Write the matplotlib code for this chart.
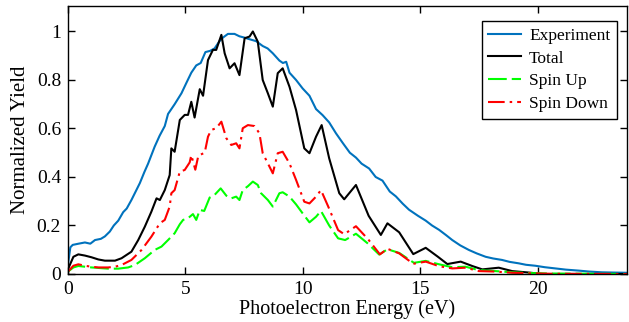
import numpy as np
import matplotlib
matplotlib.use("Agg")
import matplotlib.pyplot as plt
from matplotlib.ticker import FuncFormatter

plt.rcParams['font.family'] = ['Liberation Serif', 'DejaVu Serif']

# Experiment (measured yield)
exp_x = [0, 0.1, 0.2, 0.45, 0.72, 0.95, 1.15, 1.4, 1.57, 1.78, 1.95, 2.14, 2.35, 2.5, 2.7,
         2.88, 3.06, 3.25, 3.41, 3.55, 3.69, 3.9, 4.12, 4.26, 4.54, 4.83, 5.05, 5.25, 5.46,
         5.65, 5.85, 6.05, 6.24, 6.45, 6.6, 6.81, 7.09, 7.3, 7.5, 7.66, 8.01, 8.29, 8.5,
         8.72, 9.0, 9.15, 9.29, 9.43, 9.71, 9.99, 10.28, 10.56, 10.84, 11.12, 11.41, 11.7,
         12.0, 12.26, 12.5, 12.82, 13.1, 13.39, 13.7, 13.96, 14.25, 14.52, 14.9, 15.23,
         15.5, 15.8, 16.1, 16.36, 16.7, 17.07, 17.4, 17.78, 18.1, 18.48, 18.8, 19.19, 19.5,
         19.9, 20.3, 20.75, 21.2, 21.74, 22.2, 22.73, 23.2, 23.8]
exp_y = [0.04, 0.11, 0.12, 0.125, 0.13, 0.125, 0.14, 0.145, 0.155, 0.175, 0.2, 0.22, 0.255,
         0.27, 0.305, 0.34, 0.375, 0.42, 0.455, 0.49, 0.525, 0.57, 0.61, 0.66, 0.70, 0.745,
         0.79, 0.83, 0.86, 0.87, 0.915, 0.92, 0.93, 0.96, 0.975, 0.99, 0.99, 0.98, 0.975,
         0.97, 0.96, 0.94, 0.93, 0.91, 0.88, 0.87, 0.875, 0.83, 0.80, 0.765, 0.735, 0.68,
         0.655, 0.625, 0.58, 0.54, 0.50, 0.48, 0.455, 0.435, 0.40, 0.385, 0.34, 0.32, 0.29,
         0.265, 0.24, 0.22, 0.20, 0.182, 0.16, 0.14, 0.118, 0.099, 0.085, 0.071, 0.064,
         0.058, 0.05, 0.044, 0.038, 0.034, 0.028, 0.023, 0.018, 0.014, 0.01, 0.007, 0.006,
         0.005]

# Total (calculated)
tot_x = [0, 0.23, 0.44, 0.72, 1.0, 1.29, 1.57, 2.0, 2.28, 2.7, 2.99, 3.27, 3.55, 3.77, 3.91,
         4.12, 4.33, 4.40, 4.54, 4.76, 4.97, 5.11, 5.25, 5.39, 5.61, 5.75, 5.96, 6.17, 6.31,
         6.53, 6.67, 6.88, 7.09, 7.30, 7.52, 7.73, 7.87, 8.08, 8.29, 8.51, 8.72, 8.93, 9.14,
         9.43, 9.71, 10.06, 10.28, 10.56, 10.80, 11.12, 11.55, 11.76, 12.26, 12.80, 13.32,
         13.60, 14.10, 14.70, 15.23, 15.75, 16.15, 16.72, 17.21, 17.64, 18.34, 18.91, 19.62,
         20.2, 23.8]
tot_y = [0.02, 0.071, 0.081, 0.076, 0.069, 0.060, 0.055, 0.055, 0.065, 0.092, 0.14, 0.195,
         0.257, 0.312, 0.305, 0.346, 0.408, 0.518, 0.504, 0.635, 0.656, 0.656, 0.71, 0.645,
         0.762, 0.735, 0.882, 0.924, 0.924, 0.986, 0.91, 0.848, 0.869, 0.82, 0.972, 0.979,
         1.0, 0.958, 0.80, 0.745, 0.69, 0.828, 0.848, 0.772, 0.676, 0.518, 0.498, 0.566,
         0.614, 0.477, 0.333, 0.308, 0.367, 0.24, 0.161, 0.209, 0.172, 0.082, 0.108, 0.071,
         0.041, 0.051, 0.033, 0.019, 0.026, 0.012, 0.006, 0.0, 0.0]

# Spin up
up_x = [0, 0.23, 0.44, 0.72, 1.0, 1.29, 1.71, 2.14, 2.56, 2.85, 3.27, 3.69, 3.98, 4.26, 4.54,
        4.76, 4.90, 5.11, 5.32, 5.46, 5.61, 5.80, 6.03, 6.24, 6.50, 6.74, 6.95, 7.16, 7.30,
        7.44, 7.66, 7.87, 8.08, 8.22, 8.51, 8.72, 9.0, 9.14, 9.43, 9.71, 9.99, 10.28, 10.56,
        10.77, 11.12, 11.50, 11.80, 12.26, 12.75, 13.25, 13.60, 14.10, 14.73, 15.23, 15.80,
        16.36, 16.93, 17.49, 18.20, 18.91, 19.62, 20.5, 23.8]
up_y = [0.01, 0.027, 0.033, 0.030, 0.027, 0.025, 0.022, 0.022, 0.027, 0.037, 0.065, 0.099,
        0.113, 0.14, 0.168, 0.205, 0.223, 0.23, 0.247, 0.223, 0.264, 0.26, 0.315, 0.326,
        0.353, 0.323, 0.312, 0.319, 0.305, 0.346, 0.362, 0.381, 0.367, 0.333, 0.305, 0.278,
        0.333, 0.337, 0.319, 0.287, 0.25, 0.213, 0.236, 0.26, 0.2, 0.147, 0.14, 0.166, 0.127,
        0.08, 0.102, 0.087, 0.046, 0.054, 0.04, 0.028, 0.03, 0.016, 0.012, 0.007, 0.004,
        0.002, 0.0]

# Spin down
dn_x = [0, 0.23, 0.44, 0.72, 1.0, 1.29, 1.71, 2.0, 2.28, 2.7, 3.13, 3.55, 3.91, 4.12, 4.33,
        4.40, 4.54, 4.76, 4.97, 5.18, 5.25, 5.42, 5.55, 5.82, 5.96, 6.10, 6.31, 6.53, 6.74,
        6.95, 7.16, 7.30, 7.44, 7.66, 7.94, 8.15, 8.29, 8.51, 8.72, 8.93, 9.14, 9.43, 9.71,
        10.06, 10.28, 10.56, 10.77, 11.08, 11.50, 11.76, 12.26, 12.78, 13.28, 13.60, 14.10,
        14.70, 15.23, 15.80, 16.36, 16.93, 17.49, 18.20, 18.91, 19.62, 20.5, 23.8]
dn_y = [0.01, 0.034, 0.04, 0.034, 0.030, 0.027, 0.027, 0.030, 0.037, 0.058, 0.099, 0.154,
        0.209, 0.223, 0.278, 0.333, 0.346, 0.422, 0.429, 0.46, 0.49, 0.43, 0.488, 0.50, 0.566,
        0.594, 0.601, 0.628, 0.56, 0.532, 0.539, 0.518, 0.601, 0.614, 0.61, 0.58, 0.498,
        0.456, 0.415, 0.498, 0.504, 0.456, 0.388, 0.298, 0.291, 0.319, 0.346, 0.278, 0.181,
        0.164, 0.197, 0.143, 0.081, 0.104, 0.085, 0.042, 0.051, 0.032, 0.023, 0.026, 0.012,
        0.01, 0.005, 0.003, 0.001, 0.0]

fig = plt.figure(figsize=(6.29, 3.22), dpi=100)
ax = fig.add_axes([68/629, 1-274/322, (627-68)/629, (274-6)/322])

ax.plot(exp_x, exp_y, color='#0072BD', lw=1.5, label='Experiment')
ax.plot(tot_x, tot_y, color='black', lw=1.5, label='Total')
ax.plot(up_x, up_y, color='#00FF00', lw=1.5, dashes=(9, 2.4), label='Spin Up')
ax.plot(dn_x, dn_y, color='#FF0000', lw=1.5, dashes=(8, 2.4, 1.2, 2.4), label='Spin Down')

ax.set_xlim(0, 23.8)
ax.set_ylim(0, 1.105)
ax.set_xticks([0, 5, 10, 15, 20])
ax.set_yticks([0, 0.2, 0.4, 0.6, 0.8, 1])
ax.yaxis.set_major_formatter(FuncFormatter(lambda v, p: '%g' % v))
ax.tick_params(direction='in', top=True, right=True, length=5, width=1, labelsize=14, pad=5)
for s in ax.spines.values():
    s.set_linewidth(1)

ax.set_xlabel('Photoelectron Energy (eV)', fontsize=14.5, labelpad=1)
ax.set_ylabel('Normalized Yield', fontsize=15, labelpad=5)

leg = ax.legend(loc='upper right', bbox_to_anchor=(0.982, 0.944), borderaxespad=0,
                fontsize=12.5, fancybox=False, edgecolor='black', framealpha=1,
                handlelength=1.9, handletextpad=0.45, labelspacing=0.38, borderpad=0.38)
leg.get_frame().set_linewidth(1)

fig.savefig('out.png', dpi=100)
